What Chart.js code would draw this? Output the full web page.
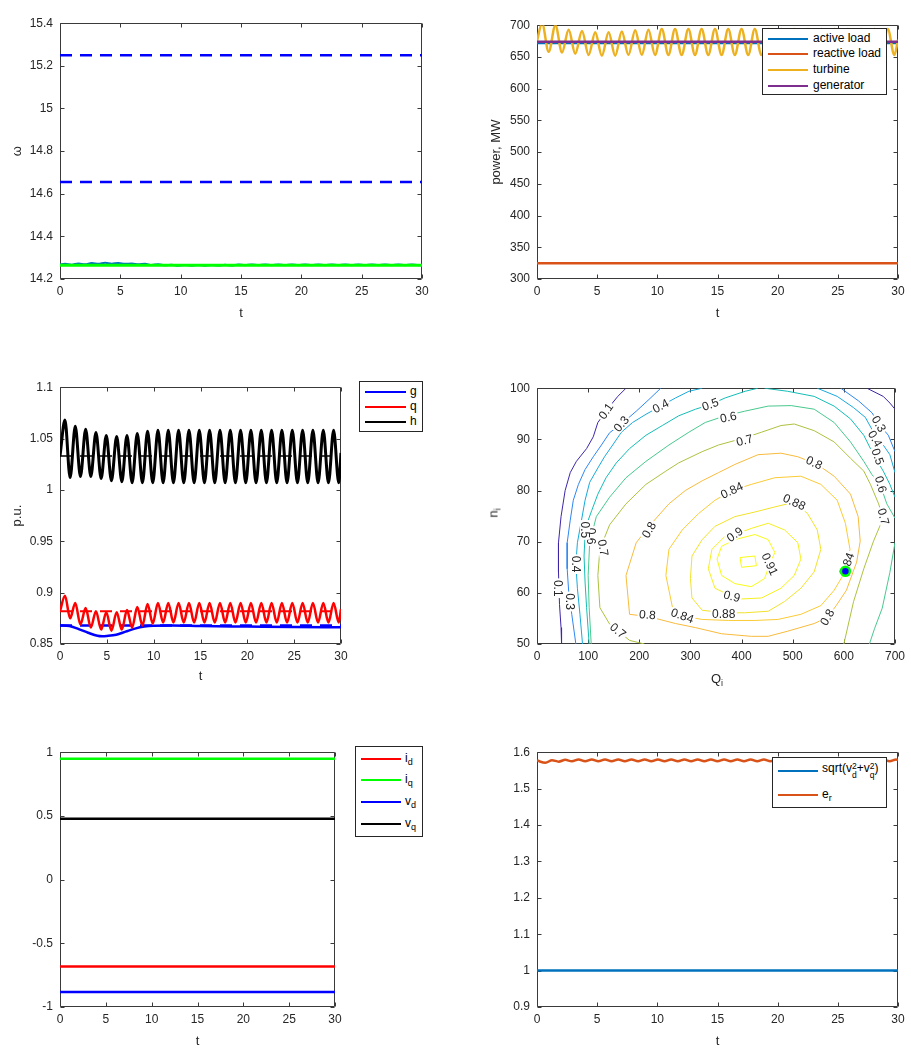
<!DOCTYPE html>
<html><head><meta charset="utf-8">
<script src="https://cdn.jsdelivr.net/npm/chart.js@4/dist/chart.umd.min.js"></script>
<style>
html,body{margin:0;padding:0;background:#fff;overflow:hidden;}
#wrap{position:relative;width:911px;height:1049px;font-family:"Liberation Sans",Arial,Helvetica,sans-serif;color:#262626;background:#fff;}
canvas{position:absolute;}
.leg{position:absolute;background:#fff;border:1px solid #262626;box-sizing:border-box;}
.sw{position:absolute;height:0;border-top-style:solid;}
.lt{position:absolute;font-size:12px;line-height:12px;white-space:nowrap;color:#000;transform:translateY(-55%);}
.lt sub{font-size:9px;vertical-align:-3px;line-height:0;}
.ss{display:inline-block;vertical-align:-5px;font-size:8.5px;line-height:8.5px;}
.ss span{display:block;}
.ax{position:absolute;font-size:13px;white-space:nowrap;color:#262626;}
.ax sub{font-size:9px;vertical-align:-3px;line-height:0;}
</style></head>
<body><div id="wrap">
<canvas id="c1"></canvas><canvas id="c2"></canvas><canvas id="c3"></canvas>
<canvas id="c4"></canvas><canvas id="c5"></canvas><canvas id="c6"></canvas>
</div>
<script>
// ================= DATA =================
const timeTicks = [0, 5, 10, 15, 20, 25, 30];

// --- panel 1: omega ---
const omegaTicks = [14.2, 14.4, 14.6, 14.8, 15, 15.2, 15.4];
const tSpan = [0, 30];
const omegaMax = [15.25, 15.25];
const omegaMin = [14.655, 14.655];
const omegaRef = [14.264, 14.264];
const tOsc = [0,0.42,0.97,1.53,2.08,2.63,3.18,3.74,4.29,4.84,5.39,5.95,6.50,7.05,7.60,8.16,8.71,9.26,9.81,10.37,10.92,11.47,12.02,12.58,13.13,13.68,14.23,14.79,15.34,15.89,16.44,17.00,17.55,18.10,18.65,19.21,19.76,20.31,20.86,21.42,21.97,22.52,23.07,23.63,24.18,24.73,25.28,25.84,26.39,26.94,27.49,28.05,28.60,29.15,29.70,30];
const omega = [14.268,
 14.271,14.267, 14.273,14.269, 14.275,14.271, 14.276,14.272, 14.275,14.271, 14.273,14.269, 14.271,14.266, 14.269,14.264, 14.267,14.262,
 14.266,14.262, 14.266,14.262, 14.266,14.263, 14.267,14.263, 14.268,14.265, 14.268,14.265, 14.268,14.265, 14.268,14.265, 14.268,14.265,
 14.268,14.265, 14.268,14.265, 14.268,14.265, 14.268,14.265, 14.268,14.265, 14.268,14.265, 14.268,14.265, 14.268,14.265, 14.268,14.265,
 14.267];

// --- panel 2: power ---
const powerTicks = [300, 350, 400, 450, 500, 550, 600, 650, 700];
const activeLoad = [672, 672];
const reactiveLoad = [325, 325];
const generator = [674, 674];
const turbine = [675,
 703,658, 700,657, 693,655, 691,653, 689,652, 689,652, 690,653, 692,653, 693,653,
 694,653, 694,653, 694,653, 694,653, 694,653, 694,653, 694,653, 694,653, 694,653,
 694,653, 694,653, 694,653, 694,653, 694,653, 694,653, 694,653, 694,653, 694,653,
 677];

// --- panel 3: g, q, h (p.u.) ---
const puTicks = [0.85, 0.9, 0.95, 1, 1.05, 1.1];
const tH = [0,0.53,1.08,1.63,2.18,2.74,3.29,3.84,4.39,4.94,5.49,6.05,6.60,7.15,7.70,8.25,8.80,9.35,9.90,10.46,11.01,11.56,12.11,12.66,13.21,13.77,14.32,14.87,15.42,15.97,16.52,17.08,17.63,18.18,18.73,19.28,19.83,20.38,20.93,21.49,22.04,22.59,23.14,23.69,24.24,24.80,25.35,25.90,26.45,27.00,27.55,28.11,28.66,29.21,29.76,30];
const hVals = [1.033,
 1.068,1.012, 1.062,1.013, 1.059,1.013, 1.056,1.011, 1.053,1.009, 1.052,1.008, 1.053,1.007, 1.055,1.007, 1.057,1.007,
 1.058,1.007, 1.058,1.007, 1.058,1.007, 1.058,1.007, 1.058,1.007, 1.058,1.007, 1.058,1.007, 1.058,1.007, 1.058,1.007,
 1.058,1.007, 1.058,1.007, 1.058,1.007, 1.058,1.007, 1.058,1.007, 1.058,1.007, 1.058,1.007, 1.058,1.007, 1.058,1.007,
 1.036];
const qVals = [0.882,
 0.897,0.875, 0.890,0.869, 0.885,0.866, 0.882,0.864, 0.881,0.863, 0.881,0.864, 0.883,0.866, 0.886,0.868, 0.889,0.870,
 0.890,0.871, 0.890,0.871, 0.890,0.871, 0.890,0.871, 0.890,0.871, 0.890,0.871, 0.890,0.871, 0.890,0.871, 0.890,0.871,
 0.890,0.871, 0.890,0.871, 0.890,0.871, 0.890,0.871, 0.890,0.871, 0.890,0.871, 0.890,0.871, 0.890,0.871, 0.890,0.871,
 0.884];
const tG = [0, 1, 2, 3, 4, 4.5, 5, 6, 7, 8, 9, 10, 12, 15, 20, 25, 30];
const gVals = [0.868, 0.8675, 0.8645, 0.861, 0.858, 0.8575, 0.8578, 0.859, 0.862, 0.865, 0.867, 0.8678, 0.868, 0.8675, 0.867, 0.8665, 0.8662];
const gRef = [0.868, 0.868];
const qRef = [0.882, 0.882];
const hRef = [1.033, 1.033];

// --- panel 4: efficiency contour ---
const qTicks = [0, 100, 200, 300, 400, 500, 600, 700];
const nTicks = [50, 60, 70, 80, 90, 100];
const levels = [0.1, 0.3, 0.4, 0.5, 0.6, 0.7, 0.8, 0.84, 0.88, 0.9, 0.91];
const c01a = [[174,100],[158,98.4],[145,96.8],[119,93.3],[110,90.5],[97,88.2],[77,85.7],[65,83.5],[55,80.0],[47,74.9],[42,69.8],[42,64.1],[44,57.7],[47,53.2],[48,50]];
const c01b = [[645,100],[677,98.4],[690,97.1],[700,95.9]];
const c03a = [[242,100],[219,97.8],[194,95.5],[165,93.0],[142,91.3],[126,88.9],[110,86.6],[94,84.1],[81,81.2],[71,78.1],[65,74.2],[59,69.8],[59,64.7],[62,60.2],[68,55.8],[76,50]];
const c03b = [[594,100],[629,97.5],[655,95.2],[671,92.7],[687,90.8],[700,87.6]];
const c04a = [[323,100],[297,99.4],[271,98.1],[242,96.5],[213,94.9],[187,93.3],[165,91.4],[148,88.9],[132,86.6],[119,84.4],[103,81.6],[94,78.1],[87,74.2],[79,69.8],[76,65.6],[79,60.9],[84,55.8],[89,50]];
const c04b = [[548,100],[587,98.4],[619,96.2],[642,94.3],[658,91.4],[677,88.9],[690,87.0],[700,83.5]];
const c05a = [[432,100],[407,99.4],[368,98.1],[339,96.8],[310,95.9],[277,94.6],[245,92.7],[213,90.8],[181,88.2],[155,85.4],[135,82.5],[119,79.3],[107,76.1],[98,73.6],[94,71.4],[92,67.2],[94,62.1],[97,57.1],[102,50]];
const c05b = [[445,100],[490,99.4],[542,98.4],[581,96.5],[613,94.0],[639,90.8],[658,87.0],[677,83.8],[690,81.2],[700,78.7]];
const c06a = [[106,50],[102,57.1],[100,63.4],[103,69.8],[116,74.9],[142,78.7],[174,82.5],[213,85.7],[258,88.9],[297,91.4],[329,93.3],[368,94.6],[406,95.5],[452,96.5],[497,96.6],[542,95.9],[581,93.3],[613,89.5],[639,85.7],[655,83.1],[671,81.2],[684,77.4],[700,74.6]];
const c06b = [[700,69.8],[690,64],[675,57],[660,53],[650,50]];
const c07 = [[210,50],[181,50.7],[158,52.6],[142,53.9],[123,57.1],[119,63.4],[123,68.5],[142,73.3],[174,77.4],[213,81.2],[252,83.8],[277,85.4],[323,87.6],[355,88.9],[406,90.3],[439,91.4],[477,92.7],[503,93.0],[542,91.7],[581,89.5],[613,86.3],[639,83.8],[652,81.2],[668,77.4],[677,74.6],[658,70.1],[639,64.7],[619,58.3],[600,50]];
const c08 = [[181,55.8],[174,63.4],[194,69.8],[219,73.0],[258,77.4],[290,80.0],[323,81.9],[355,83.5],[387,85.1],[432,87.0],[477,87.3],[510,86.6],[548,85.1],[581,82.8],[613,79.3],[628,74.9],[632,70.1],[625,66.0],[605,60.5],[585,57.5],[568,55.2],[542,54.0],[490,52.5],[452,51.5],[419,51.5],[361,52.0],[310,53.2],[271,54.0],[232,55.0],[206,55.5],[181,55.8]];
const c084 = [[265,57.1],[252,63.4],[258,68.5],[284,72.3],[316,75.5],[348,78.1],[381,80.0],[419,81.2],[465,82.5],[516,82.8],[555,81.2],[587,78.1],[603,73.6],[612,68.5],[603,64.2],[581,60.5],[555,57.5],[516,55.8],[471,54.8],[426,54.6],[374,54.6],[323,54.8],[284,55.5],[265,57.1]];
const c088 = [[300,62.8],[303,67.2],[323,70.4],[348,73.0],[387,74.9],[426,75.8],[465,76.8],[503,77.7],[529,75.5],[548,72.3],[555,68.5],[542,64.1],[516,60.9],[484,58.3],[452,56.4],[406,56.1],[365,56.1],[323,56.6],[303,59.0],[300,62.8]];
const c090 = [[335,64.7],[342,68.5],[368,71.1],[387,71.4],[419,72.6],[452,73.6],[484,72.3],[510,69.8],[516,66.6],[503,63.4],[477,60.9],[439,59.0],[400,58.8],[381,59.3],[348,60.9],[335,64.7]];
const c091a = [[352,66.6],[361,69.1],[387,70.4],[426,71.4],[452,70.4],[465,67.9],[455,65.6],[445,62.8],[419,61.2],[387,61.8],[361,63.4],[352,66.6]];
const c091b = [[397,66.9],[426,67.2],[429,65.3],[400,65.0],[397,66.9]];
const contourSegs = [[0.1,c01a],[0.1,c01b],[0.3,c03a],[0.3,c03b],[0.4,c04a],[0.4,c04b],[0.5,c05a],[0.5,c05b],[0.6,c06a],[0.6,c06b],[0.7,c07],[0.8,c08],[0.84,c084],[0.88,c088],[0.9,c090],[0.91,c091a],[0.91,c091b]];
const clabText = ['0.1','0.3','0.4','0.5','0.6','0.7','0.8','0.84','0.88','0.9','0.91','0.9','0.88','0.84','0.8','0.7','0.8','0.7','0.6','0.5','0.4','0.3','0.1','0.3','0.4','0.5','0.6','0.7','0.8','0.84'];
const clabQ = [135,165,242,339,374,406,542,381,503,387,455,381,365,284,216,158,219,129,105,94,76,65,40,668,661,666,672,677,568,606];
const clabN = [95.5,93.0,96.5,96.8,94.3,89.8,85.4,80.0,77.7,71.4,65.6,59.3,55.9,55.5,55.7,52.6,72.3,68.8,71.1,72.3,65.6,58.3,60.9,93.0,90.1,86.6,81.2,74.9,55.2,65.6];
const clabAng = [-55,-50,-28,-20,-12,-15,25,-25,25,-35,65,15,0,20,5,40,-60,80,90,90,90,90,90,60,60,70,75,75,-60,-70];
const bestPoint = [603, 64.2];

// --- panel 5: currents & voltages ---
const dqTicks = [-1, -0.5, 0, 0.5, 1];
const iD = [-0.683, -0.683];
const iQ = [0.949, 0.949];
const vD = [-0.882, -0.882];
const vQ = [0.477, 0.477];

// --- panel 6: voltage magnitude & excitation ---
const magTicks = [0.9, 1, 1.1, 1.2, 1.3, 1.4, 1.5, 1.6];
const vMag = [1.0, 1.0];
const tE = [0,0.70,1.25,1.80,2.35,2.90,3.45,4.00,4.55,5.10,5.65,6.20,6.75,7.30,7.85,8.40,8.95,9.50,10.05,10.60,11.15,11.70,12.25,12.80,13.35,13.90,14.45,15.00,15.55,16.10,16.65,17.20,17.75,18.30,18.85,19.40,19.95,20.50,21.05,21.60,22.15,22.70,23.25,23.80,24.35,24.90,25.45,26.00,26.55,27.10,27.65,28.20,28.75,29.30,29.85,30];
const eR = [1.577,
 1.571,1.578, 1.574,1.579, 1.575,1.580, 1.575,1.580, 1.575,1.580, 1.575,1.580, 1.575,1.580, 1.575,1.580, 1.575,1.580,
 1.575,1.580, 1.575,1.580, 1.575,1.580, 1.575,1.580, 1.575,1.580, 1.575,1.580, 1.575,1.580, 1.575,1.580, 1.575,1.580,
 1.575,1.580, 1.575,1.580, 1.575,1.580, 1.575,1.580, 1.575,1.580, 1.575,1.580, 1.575,1.580, 1.575,1.580, 1.575,1.580,
 1.578];

// ================= STYLE / LAYOUT =================
const FONT = '"Liberation Sans", Arial, Helvetica, sans-serif';
Chart.defaults.font.family = FONT;
Chart.defaults.color = '#262626';
const C = {mBlue:'#0072BD', mOrange:'#D95319', mYellow:'#EDB120', mPurple:'#7E2F8E', blue:'#0000FF', red:'#FF0000', green:'#00FF00', black:'#000000'};
const levelColor = {0.1:'#3E26A8',0.3:'#2E87F2',0.4:'#18AADA',0.5:'#14BDB7',0.6:'#48C98E',0.7:'#AFC13E',0.8:'#F8BB3C',0.84:'#FBCB35',0.88:'#F2E22A',0.9:'#F6F020',0.91:'#F9FB15'};
const boxes = {
  c1:{l:60,t:17,r:422,b:279}, c2:{l:537,t:19,r:898,b:279},
  c3:{l:60,t:381,r:341,b:644}, c4:{l:537,t:382,r:898,b:644},
  c5:{l:60,t:746,r:335,b:1007}, c6:{l:537,t:746,r:898,b:1007}
};

function fmt(v){ return String(+(+v).toFixed(4)); }
function xy(xs, ys){ return xs.map((x,i)=>({x:x, y:ys[i]})); }
function ln(label, xs, ys, color, width, extra){
  return Object.assign({label:label, data:xy(xs,ys), borderColor:color, backgroundColor:color,
    borderWidth:width, pointRadius:0, showLine:true, fill:false}, extra||{});
}
const smooth = {cubicInterpolationMode:'monotone'};

const axesBox = {
  id:'axesBox',
  beforeDatasetsDraw(chart){
    const {ctx, chartArea:a, scales:{x, y}} = chart;
    ctx.save();
    ctx.strokeStyle = '#3a3a3a'; ctx.lineWidth = 1;
    ctx.beginPath();
    const L = Math.round(a.left)+0.5, R = Math.round(a.right)-0.5, T = Math.round(a.top)+0.5, B = Math.round(a.bottom)-0.5;
    ctx.rect(L, T, R-L, B-T);
    const k = 4;
    x.ticks.forEach(t => { const p = Math.round(x.getPixelForValue(t.value))+0.5; ctx.moveTo(p,B); ctx.lineTo(p,B-k); ctx.moveTo(p,T); ctx.lineTo(p,T+k); });
    y.ticks.forEach(t => { const p = Math.round(y.getPixelForValue(t.value))+0.5; ctx.moveTo(L,p); ctx.lineTo(L+k,p); ctx.moveTo(R,p); ctx.lineTo(R-k,p); });
    ctx.stroke();
    ctx.restore();
  }
};

function axisOpts(min, max, ticks, title, which, size, titlePad){
  return {
    type:'linear', min:min, max:max,
    grid:{display:false, drawTicks:false}, border:{display:false},
    ticks:{padding: which==='x'?5:7, font:{size:12}, color:'#262626', callback:v=>fmt(v), autoSkip:false, maxRotation:0},
    afterBuildTicks: s => { s.ticks = ticks.map(v=>({value:v})); },
    afterFit: s => { if (which==='x') s.height = size; else s.width = size; },
    title: title ? {display:true, text:title, font:{size:13}, color:'#262626', padding:{top:titlePad||0, bottom:0}} : {display:false}
  };
}

function panel(id, sc, datasets, plugins){
  const box = boxes[id];
  const padL = 50, padT = 8, padR = 12, padB = sc.padB || 42;
  const cv = document.getElementById(id);
  const W = box.r-box.l+padL+padR, H = box.b-box.t+padT+padB;
  cv.width = W; cv.height = H;
  cv.style.left = (box.l-padL)+'px'; cv.style.top = (box.t-padT)+'px';
  cv.style.width = W+'px'; cv.style.height = H+'px';
  datasets.forEach((d,i)=>{ d.order = datasets.length - i; });
  return new Chart(cv, {
    type:'scatter',
    data:{datasets:datasets},
    options:{
      responsive:false, animation:false, devicePixelRatio:1,
      layout:{padding:{left:0, top:padT, right:padR, bottom:0}},
      plugins:{legend:{display:false}, tooltip:{enabled:false}},
      scales:{
        x: axisOpts(sc.xmin, sc.xmax, sc.xticks, sc.xtitle, 'x', padB),
        y: axisOpts(sc.ymin, sc.ymax, sc.yticks, sc.ytitle, 'y', padL, sc.ytitlePad)
      }
    },
    plugins:[axesBox].concat(plugins||[])
  });
}

// ---- panel 1 ----
panel('c1', {xmin:0,xmax:30,xticks:timeTicks,xtitle:'t',ymin:14.2,ymax:15.4,yticks:omegaTicks,ytitle:'ω'}, [
  ln('ω', tOsc, omega, C.mBlue, 2, smooth),
  ln('ω ref', tSpan, omegaRef, C.green, 3),
  ln('ω max', tSpan, omegaMax, C.blue, 2.5, {borderDash:[12,8]}),
  ln('ω min', tSpan, omegaMin, C.blue, 2.5, {borderDash:[12,8]})
]);

// ---- panel 2 ----
panel('c2', {xmin:0,xmax:30,xticks:timeTicks,xtitle:'t',ymin:300,ymax:700,yticks:powerTicks,ytitle:'power, MW',ytitlePad:2}, [
  ln('active load', tSpan, activeLoad, C.mBlue, 2.5),
  ln('reactive load', tSpan, reactiveLoad, C.mOrange, 2.5),
  ln('turbine', tOsc, turbine, C.mYellow, 2.5, smooth),
  ln('generator', tSpan, generator, C.mPurple, 2.5)
]);

// ---- panel 3 ----
panel('c3', {xmin:0,xmax:30,xticks:timeTicks,xtitle:'t',ymin:0.85,ymax:1.1,yticks:puTicks,ytitle:'p.u.',padB:40}, [
  ln('g ref', tSpan, gRef, C.blue, 2.5, {borderDash:[12,8]}),
  ln('g', tG, gVals, C.blue, 2.5, smooth),
  ln('q ref', tSpan, qRef, C.red, 2, {borderDash:[12,8]}),
  ln('q', tH, qVals, C.red, 2.5, smooth),
  ln('h ref', tSpan, hRef, C.black, 1.5, {borderDash:[12,8]}),
  ln('h', tH, hVals, C.black, 3, smooth)
]);

// ---- panel 4 ----
const contourLabelPlugin = {
  id:'clabels',
  afterDatasetDraw(chart, args){
    if (args.index !== contourSegs.length - 1) return;
    const {ctx, scales:{x, y}} = chart;
    ctx.save();
    ctx.font = '12px ' + FONT;
    ctx.textAlign = 'center'; ctx.textBaseline = 'middle';
    clabText.forEach((t,i)=>{
      const px = x.getPixelForValue(clabQ[i]), py = y.getPixelForValue(clabN[i]);
      ctx.save(); ctx.translate(px, py); ctx.rotate(clabAng[i]*Math.PI/180);
      const w = ctx.measureText(t).width;
      ctx.fillStyle = '#fff'; ctx.fillRect(-w/2-1.5, -5, w+3, 10);
      ctx.fillStyle = '#262626'; ctx.fillText(t, 0, 0.5);
      ctx.restore();
    });
    ctx.restore();
  }
};
const contourSets = contourSegs.map(s => ln('level '+s[0], s[1].map(p=>p[0]), s[1].map(p=>p[1]), levelColor[s[0]], 1));
contourSets.push({label:'operating point', data:[{x:bestPoint[0], y:bestPoint[1]}], pointRadius:4.5,
  pointBackgroundColor:'#0000FF', pointBorderColor:'#00FF00', pointBorderWidth:2.5, showLine:false});
panel('c4', {xmin:0,xmax:700,xticks:qTicks,xtitle:'',ymin:50,ymax:100,yticks:nTicks,ytitle:''}, contourSets, [contourLabelPlugin]);

// ---- panel 5 ----
panel('c5', {xmin:0,xmax:30,xticks:timeTicks,xtitle:'t',ymin:-1,ymax:1,yticks:dqTicks,ytitle:''}, [
  ln('i_d', tSpan, iD, C.red, 2.5),
  ln('i_q', tSpan, iQ, C.green, 2.5),
  ln('v_d', tSpan, vD, C.blue, 2.5),
  ln('v_q', tSpan, vQ, C.black, 2.5)
]);

// ---- panel 6 ----
panel('c6', {xmin:0,xmax:30,xticks:timeTicks,xtitle:'t',ymin:0.9,ymax:1.6,yticks:magTicks,ytitle:''}, [
  ln('sqrt', tSpan, vMag, C.mBlue, 2.5),
  ln('e_r', tE, eR, C.mOrange, 2.5, smooth)
]);

// ================= HTML legends & subscripted titles =================
const wrap = document.getElementById('wrap');
function el(cls, css, html){ const d=document.createElement('div'); d.className=cls; Object.assign(d.style, css); if(html!==undefined) d.innerHTML=html; wrap.appendChild(d); return d; }
function legend(box, rows, sx0, sx1, tx, items){
  el('leg', {left:box[0]+'px', top:box[1]+'px', width:box[2]+'px', height:box[3]+'px'});
  items.forEach((it,i)=>{
    el('sw', {left:sx0+'px', width:(sx1-sx0)+'px', top:(rows[i]-1.25)+'px', borderTopWidth:'2.5px', borderTopColor:it[0]});
    el('lt', {left:tx+'px', top:rows[i]+'px'}, it[1]);
  });
}
legend([762,28,125,67], [39,54,70,86], 768, 808, 813, [[C.mBlue,'active load'],[C.mOrange,'reactive load'],[C.mYellow,'turbine'],[C.mPurple,'generator']]);
legend([359,381,64,51], [392,407,422], 365, 406, 410, [[C.blue,'g'],[C.red,'q'],[C.black,'h']]);
legend([355,746,68,91], [759,780,802,824], 361, 401, 405, [[C.red,'i<sub>d</sub>'],[C.green,'i<sub>q</sub>'],[C.blue,'v<sub>d</sub>'],[C.black,'v<sub>q</sub>']]);
legend([772,757,115,51], [771,795], 778, 818, 822, [[C.mBlue,'sqrt(v<span class="ss"><span>2</span><span>d</span></span>+v<span class="ss"><span>2</span><span>q</span></span>)'],[C.mOrange,'e<sub>r</sub>']]);
el('ax', {left:'493px', top:'513px', transform:'translate(-50%,-50%) rotate(-90deg)'}, 'n<sub>i</sub>');
el('ax', {left:'717px', top:'678px', transform:'translate(-50%,-50%)'}, 'Q<sub>i</sub>');
</script>
</body></html>
